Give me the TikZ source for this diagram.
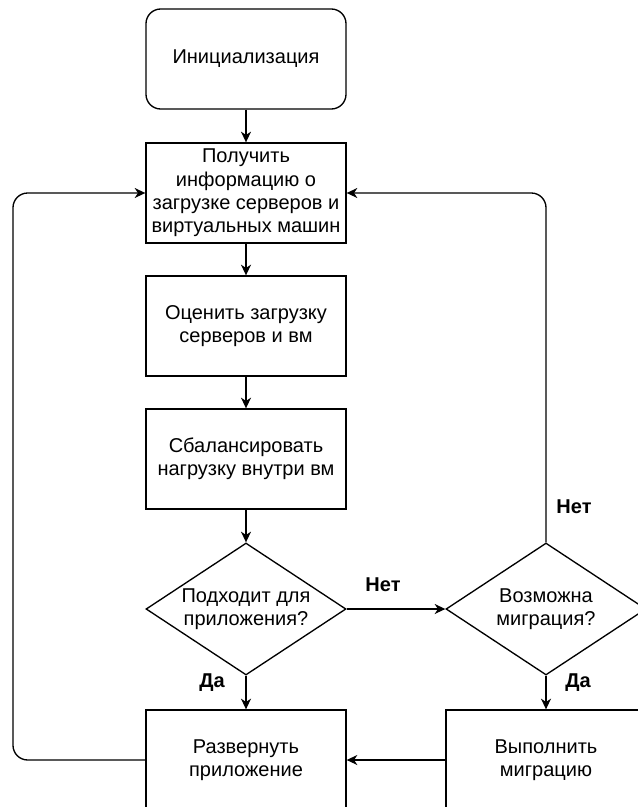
\documentclass[tikz,border=0pt]{standalone}
\usepackage{fontspec}
\setmainfont{Liberation Sans}
\usetikzlibrary{shapes.geometric,arrows.meta}
\begin{document}
\begin{tikzpicture}[x=0.75pt,y=-0.75pt,
  every node/.style={font=\fontsize{15pt}{17.5pt}\selectfont, align=center, text=black},
  box/.style={draw, line width=1pt, minimum width=150pt, minimum height=75pt, inner sep=2pt},
  rbox/.style={box, rounded corners=11pt},
  dec/.style={draw, line width=1pt, diamond, minimum width=150pt, minimum height=99pt, shape aspect=1.5, inner sep=0pt},
  conn/.style={line width=1pt, -{Stealth[length=8pt,width=7.5pt,inset=2.5pt]}},
  lbl/.style={font=\bfseries\fontsize{15pt}{17.5pt}\selectfont}
]
\useasboundingbox (0,0) rectangle (638,807);
\node[rbox] (init) at (246,59) {Инициализация};
\node[box] (get) at (246,193) {Получить\\информацию о\\загрузке серверов и\\виртуальных машин};
\node[box] (est) at (246,326) {Оценить загрузку\\серверов и вм};
\node[box] (bal) at (246,459) {Сбалансировать\\нагрузку внутри вм};
\node[dec] (d1) at (246,609) {Подходит для\\приложения?};
\node[dec] (d2) at (546,609) {Возможна\\миграция?};
\node[box] (dep) at (246,760) {Развернуть\\приложение};
\node[box] (mig) at (546,760) {Выполнить\\миграцию};

\coordinate (lc) at (13,760);

\draw[conn] (init) -- (get);
\draw[conn] (get) -- (est);
\draw[conn] (est) -- (bal);
\draw[conn] (bal) -- (d1);
\draw[conn] (d1) -- (d2);
\draw[conn] (d1) -- (dep);
\draw[conn] (d2) -- (mig);
\draw[conn] (mig) -- (dep);
\draw[conn, rounded corners=11pt] (dep.west) -- (lc) |- (get.west);
\draw[conn, rounded corners=11pt] (d2.north) |- (get.east);

\node[lbl] (l1) at (383,585) {Нет};
\node[lbl] (l2) at (574,507) {Нет};
\node[lbl] (l3) at (212,683) {Да};
\node[lbl] (l4) at (578,683) {Да};
\end{tikzpicture}
\end{document}
